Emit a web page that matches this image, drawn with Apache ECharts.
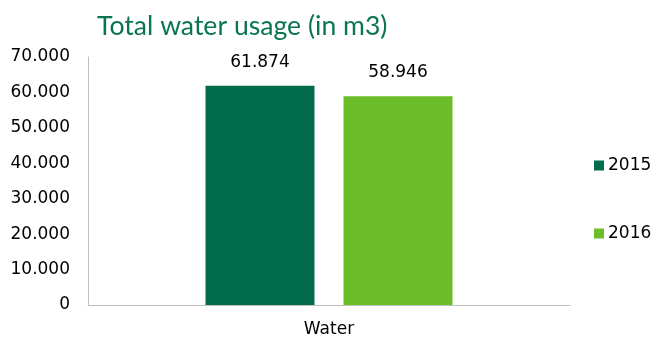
<!DOCTYPE html>
<html>
<head>
<meta charset="utf-8">
<script src="https://cdn.jsdelivr.net/npm/echarts@6/dist/echarts.min.js"></script>
<style>
  html, body { margin: 0; padding: 0; background: #fff; }
  #chart { width: 653px; height: 340px; }
</style>
</head>
<body>
<div id="chart"></div>
<script>
// Water consumption per year, in cubic metres
const categories = ['Water'];
const years = ['2015', '2016'];
const usage2015 = [61874];
const usage2016 = [58946];
const yTicks = [0, 10000, 20000, 30000, 40000, 50000, 60000, 70000];

const colors = ['#016b4b', '#6bbd2a'];
const TITLE_FONT = 'Lato';
const FONT = 'DejaVu Sans';

// Dot as thousands separator, e.g. 61.874
function fmt(v) {
  return String(Math.round(v)).replace(/\B(?=(\d{3})+(?!\d))/g, '.');
}

const seriesValues = [usage2015, usage2016];

const chart = echarts.init(document.getElementById('chart'), null, { renderer: 'canvas' });
chart.setOption({
  animation: false,
  title: {
    text: 'Total water usage (in m3)',
    left: 92,
    top: 8,
    textStyle: { color: '#0a7650', fontFamily: TITLE_FONT, fontSize: 26.6, fontWeight: 'normal' }
  },
  legend: {
    orient: 'vertical',
    left: 589,
    top: 152,
    itemWidth: 10,
    itemHeight: 10,
    itemGap: 51,
    icon: 'rect',
    data: years,
    textStyle: { color: '#000', fontFamily: FONT, fontSize: 17, padding: [0, 0, 0, -1] }
  },
  grid: { left: 88, right: 83, top: 57, bottom: 35, containLabel: false },
  xAxis: {
    type: 'category',
    data: categories,
    axisLine: { show: true, lineStyle: { color: '#bfbfbf', width: 1 } },
    axisTick: { show: false },
    axisLabel: { color: '#000', fontFamily: FONT, fontSize: 17, margin: 16 }
  },
  yAxis: {
    type: 'value',
    min: yTicks[0],
    max: yTicks[yTicks.length - 1],
    interval: yTicks[1] - yTicks[0],
    axisLine: { show: true, lineStyle: { color: '#bfbfbf', width: 1 } },
    axisTick: { show: false },
    splitLine: { show: false },
    axisLabel: { color: '#000', fontFamily: FONT, fontSize: 17, margin: 18, formatter: fmt }
  },
  series: years.map((y, i) => ({
    name: y,
    type: 'bar',
    data: seriesValues[i],
    barWidth: 109,
    barGap: '26.6%',
    itemStyle: { color: colors[i] },
    label: {
      show: true,
      position: 'top',
      distance: 15,
      color: '#000',
      fontFamily: FONT,
      fontSize: 17,
      formatter: p => fmt(p.value)
    }
  }))
});
</script>
</body>
</html>
